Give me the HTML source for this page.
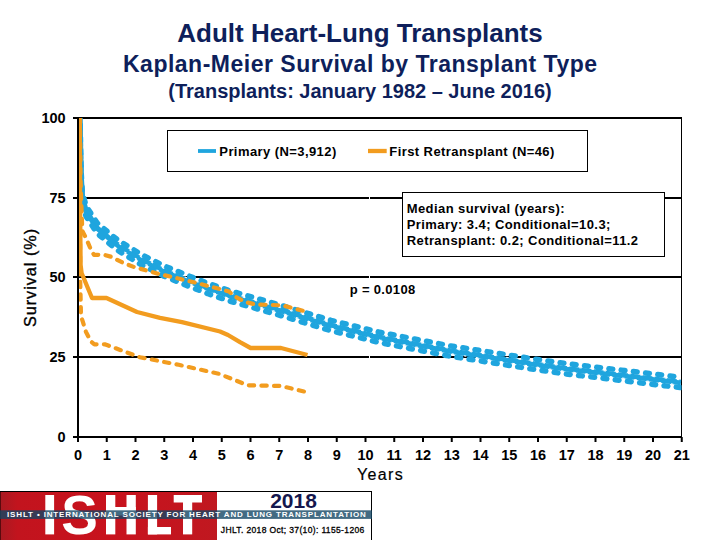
<!DOCTYPE html>
<html><head><meta charset="utf-8">
<style>
html,body{margin:0;padding:0;background:#fff;}
body{width:720px;height:540px;overflow:hidden;position:relative;font-family:"Liberation Sans",sans-serif;}
svg{position:absolute;left:0;top:0;display:block;}
</style></head>
<body>
<svg width="720" height="540" viewBox="0 0 720 540" font-family="Liberation Sans, sans-serif">
<g fill="#0e1f5b" font-weight="bold" text-anchor="middle">
<text x="360" y="41.9" font-size="26">Adult Heart-Lung Transplants</text>
<text x="360.3" y="71.5" font-size="23" letter-spacing="0.5">Kaplan-Meier Survival by Transplant Type</text>
<text x="360" y="97.5" font-size="20">(Transplants: January 1982 – June 2016)</text>
</g>
<g stroke="#000" stroke-width="2">
<line x1="73" y1="118" x2="682" y2="118"/>
<line x1="73" y1="198" x2="682" y2="198"/>
<line x1="73" y1="277" x2="682" y2="277"/>
<line x1="73" y1="357" x2="682" y2="357"/>
<line x1="73" y1="437" x2="682" y2="437"/>
<line x1="78" y1="117" x2="78" y2="438"/>
<line x1="78.00" y1="437" x2="78.00" y2="442"/>
<line x1="106.75" y1="437" x2="106.75" y2="442"/>
<line x1="135.50" y1="437" x2="135.50" y2="442"/>
<line x1="164.25" y1="437" x2="164.25" y2="442"/>
<line x1="193.00" y1="437" x2="193.00" y2="442"/>
<line x1="221.75" y1="437" x2="221.75" y2="442"/>
<line x1="250.50" y1="437" x2="250.50" y2="442"/>
<line x1="279.25" y1="437" x2="279.25" y2="442"/>
<line x1="308.00" y1="437" x2="308.00" y2="442"/>
<line x1="336.75" y1="437" x2="336.75" y2="442"/>
<line x1="365.50" y1="437" x2="365.50" y2="442"/>
<line x1="394.25" y1="437" x2="394.25" y2="442"/>
<line x1="423.00" y1="437" x2="423.00" y2="442"/>
<line x1="451.75" y1="437" x2="451.75" y2="442"/>
<line x1="480.50" y1="437" x2="480.50" y2="442"/>
<line x1="509.25" y1="437" x2="509.25" y2="442"/>
<line x1="538.00" y1="437" x2="538.00" y2="442"/>
<line x1="566.75" y1="437" x2="566.75" y2="442"/>
<line x1="595.50" y1="437" x2="595.50" y2="442"/>
<line x1="624.25" y1="437" x2="624.25" y2="442"/>
<line x1="653.00" y1="437" x2="653.00" y2="442"/>
<line x1="681.75" y1="437" x2="681.75" y2="442"/>
</g>
<line x1="681.5" y1="118" x2="681.5" y2="437" stroke="#000" stroke-width="1"/>
<g stroke="#fff" stroke-width="1">
<line x1="369.5" y1="196.5" x2="369.5" y2="199.5"/>
<line x1="369.5" y1="275.5" x2="369.5" y2="278.5"/>
<line x1="369.5" y1="355.5" x2="369.5" y2="358.5"/>
</g>
<g font-weight="bold" font-size="14.5" text-anchor="end" fill="#000">
<text x="65.6" y="122.8">100</text>
<text x="65.6" y="202.8">75</text>
<text x="65.6" y="281.8">50</text>
<text x="65.6" y="361.8">25</text>
<text x="65.6" y="441.8">0</text>
</g>
<g font-weight="bold" font-size="14.5" text-anchor="middle" fill="#000">
<text x="78.00" y="459.7">0</text>
<text x="106.75" y="459.7">1</text>
<text x="135.50" y="459.7">2</text>
<text x="164.25" y="459.7">3</text>
<text x="193.00" y="459.7">4</text>
<text x="221.75" y="459.7">5</text>
<text x="250.50" y="459.7">6</text>
<text x="279.25" y="459.7">7</text>
<text x="308.00" y="459.7">8</text>
<text x="336.75" y="459.7">9</text>
<text x="365.50" y="459.7">10</text>
<text x="394.25" y="459.7">11</text>
<text x="423.00" y="459.7">12</text>
<text x="451.75" y="459.7">13</text>
<text x="480.50" y="459.7">14</text>
<text x="509.25" y="459.7">15</text>
<text x="538.00" y="459.7">16</text>
<text x="566.75" y="459.7">17</text>
<text x="595.50" y="459.7">18</text>
<text x="624.25" y="459.7">19</text>
<text x="653.00" y="459.7">20</text>
<text x="681.75" y="459.7">21</text>
</g>
<text x="380.5" y="479.75" font-size="16" text-anchor="middle" letter-spacing="1.35" fill="#000" stroke="#000" stroke-width="0.2">Years</text>
<text transform="translate(35.9,277.5) rotate(-90)" font-size="16.3" text-anchor="middle" letter-spacing="0.95" fill="#000" stroke="#000" stroke-width="0.35">Survival (%)</text>
<rect x="167.5" y="130.5" width="420" height="41" fill="#fff" stroke="#000" stroke-width="1"/>
<line x1="198" y1="151" x2="216" y2="151" stroke="#1fa5de" stroke-width="3.8"/>
<line x1="368" y1="151" x2="386.7" y2="151" stroke="#f29c1f" stroke-width="4.3"/>
<g font-weight="bold" font-size="13" letter-spacing="0.42" fill="#000">
<text x="219.3" y="155.8">Primary (N=3,912)</text>
<text x="389.3" y="155.8">First Retransplant (N=46)</text>
</g>
<defs><clipPath id="plot"><rect x="79" y="118" width="602.5" height="319"/></clipPath></defs>
<g fill="none" stroke-linejoin="round" clip-path="url(#plot)">
<path d="M80,118 L80.5,150 L81.2,178 L82.3,197 L86,211 L97,228 L110,239 L119,246 L142,260 L164,271 L186,280 L208,288.5 L230,296 L276,309 L331,325.5 L380,337.5 L450,351 L530,363.5 L560,368 L681,382.5" stroke="#1fa5de" stroke-width="5.5"/>
<path d="M80,118 L80.5,150 L81.2,178 L82.3,197 L86,211 L97,228 L110,239 L119,246 L142,260 L164,271 L186,280 L208,288.5 L230,296 L276,309 L331,325.5 L380,337.5 L450,351 L530,363.5 L560,368 L681,382.5" stroke="#1fa5de" stroke-width="5.5" stroke-linecap="round" stroke-dasharray="3.8 8.5" transform="translate(0,-5.2)"/>
<path d="M80,118 L80.5,150 L81.2,178 L82.3,197 L86,211 L97,228 L110,239 L119,246 L142,260 L164,271 L186,280 L208,288.5 L230,296 L276,309 L331,325.5 L380,337.5 L450,351 L530,363.5 L560,368 L681,382.5" stroke="#1fa5de" stroke-width="5.5" stroke-linecap="round" stroke-dasharray="3.8 8.5" stroke-dashoffset="6" transform="translate(0,5.2)"/>
<path d="M119,246 L142,260 L164,271 L186,280 L208,288.5 L230,296 L276,309 L331,325.5 L380,337.5 L450,351 L530,363.5 L560,368 L681,382.5" stroke="#fff" stroke-width="1.1" stroke-dasharray="2.5 9.8" transform="translate(0,-2.6)"/>
<path d="M119,246 L142,260 L164,271 L186,280 L208,288.5 L230,296 L276,309 L331,325.5 L380,337.5 L450,351 L530,363.5 L560,368 L681,382.5" stroke="#fff" stroke-width="1.1" stroke-dasharray="2.5 9.8" stroke-dashoffset="6" transform="translate(0,2.6)"/>
<path d="M79.8,118 L80.1,200 L80.6,265 L81.6,273 L92,298 L106.5,298 L137,312 L160,317.8 L182,322.2 L220,331.5 L228,335 L240,342.2 L250.6,348 L281,348 L307.5,355" stroke="#f29c1f" stroke-width="4.3"/>
<path d="M80,118 L80.5,180 L82.3,231 L86,238 L91.5,251 L94,254.8 L104,254.8 L111,256.7 L122.5,262.5 L134,267 L146.5,270.5 L159,274 L172,277 L184.5,280 L197,283 L209,286.3 L222,289.5 L229,291.5 L234,296 L245.5,302 L255,304.4 L273,305 L283,305.5 L296,309 L306,311.5" stroke="#f29c1f" stroke-width="4.2" stroke-linecap="round" stroke-dasharray="5.3 7.3"/>
<path d="M79.8,118 L80.2,280 L81,316 L86,332 L91,341.5 L94.4,344.3 L104.8,344.3 L139.8,357.2 L178.7,364.8 L219,373.8 L247.8,385.3 L281,386 L305,391.7" stroke="#f29c1f" stroke-width="4.2" stroke-linecap="round" stroke-dasharray="5.3 7.3"/>
</g>
<rect x="402.5" y="192.5" width="262" height="64" fill="#fff" stroke="#000" stroke-width="1"/>
<g font-weight="bold" font-size="13" letter-spacing="0.42" fill="#000">
<text x="406.7" y="213">Median survival (years):</text>
<text x="406.7" y="229">Primary: 3.4; Conditional=10.3;</text>
<text x="406.7" y="244.6">Retransplant: 0.2; Conditional=11.2</text>
</g>
<text x="349.7" y="294" font-weight="bold" font-size="13" letter-spacing="0.33" fill="#000">p = 0.0108</text>
<defs>
<linearGradient id="redg" x1="0" y1="0" x2="1" y2="0">
<stop offset="0" stop-color="#a81a22"/><stop offset="0.08" stop-color="#c2141e"/><stop offset="0.5" stop-color="#c8121d"/><stop offset="1" stop-color="#c01820"/>
</linearGradient></defs>
<rect x="0" y="491.5" width="372" height="48.5" fill="#fff"/>
<rect x="0" y="492" width="217" height="48" fill="url(#redg)"/><line x1="0.5" y1="492" x2="0.5" y2="540" stroke="#5a0a0e" stroke-width="1"/>
<line x1="0" y1="491.5" x2="372" y2="491.5" stroke="#000" stroke-width="1"/>
<line x1="371.5" y1="491" x2="371.5" y2="540" stroke="#000" stroke-width="1"/>
<g fill="#fff">
<rect x="45.3" y="495" width="8.8" height="39.4"/>
<rect x="106" y="495" width="9.3" height="39.4"/>
<rect x="126.5" y="495" width="9.3" height="39.4"/>
<rect x="106" y="507" width="29.8" height="8.5"/>
<rect x="147.9" y="495" width="9.2" height="39.4"/>
<rect x="147.9" y="527" width="23.1" height="7.4"/>
<rect x="173.7" y="495" width="28.3" height="7.5"/>
<rect x="183" y="495" width="9.2" height="39.4"/>
<text id="bigS" transform="translate(79.5,534.4) scale(0.98,1)" font-weight="bold" font-size="56" text-anchor="middle">S</text>
</g>
<rect x="0" y="510.3" width="372" height="8.6" fill="#144664" opacity="0.8"/>
<text x="7" y="517.3" font-weight="bold" font-size="8" letter-spacing="0.86" fill="#fff">ISHLT • INTERNATIONAL SOCIETY FOR HEART AND LUNG TRANSPLANTATION</text>
<text x="293.5" y="507.9" font-weight="bold" font-size="21" text-anchor="middle" fill="#15174d">2018</text>
<text x="220.8" y="533.2" font-size="8.5" letter-spacing="0.36" fill="#000" stroke="#000" stroke-width="0.3">JHLT. 2018 Oct; 37(10): 1155-1206</text>
</svg>
</body></html>
